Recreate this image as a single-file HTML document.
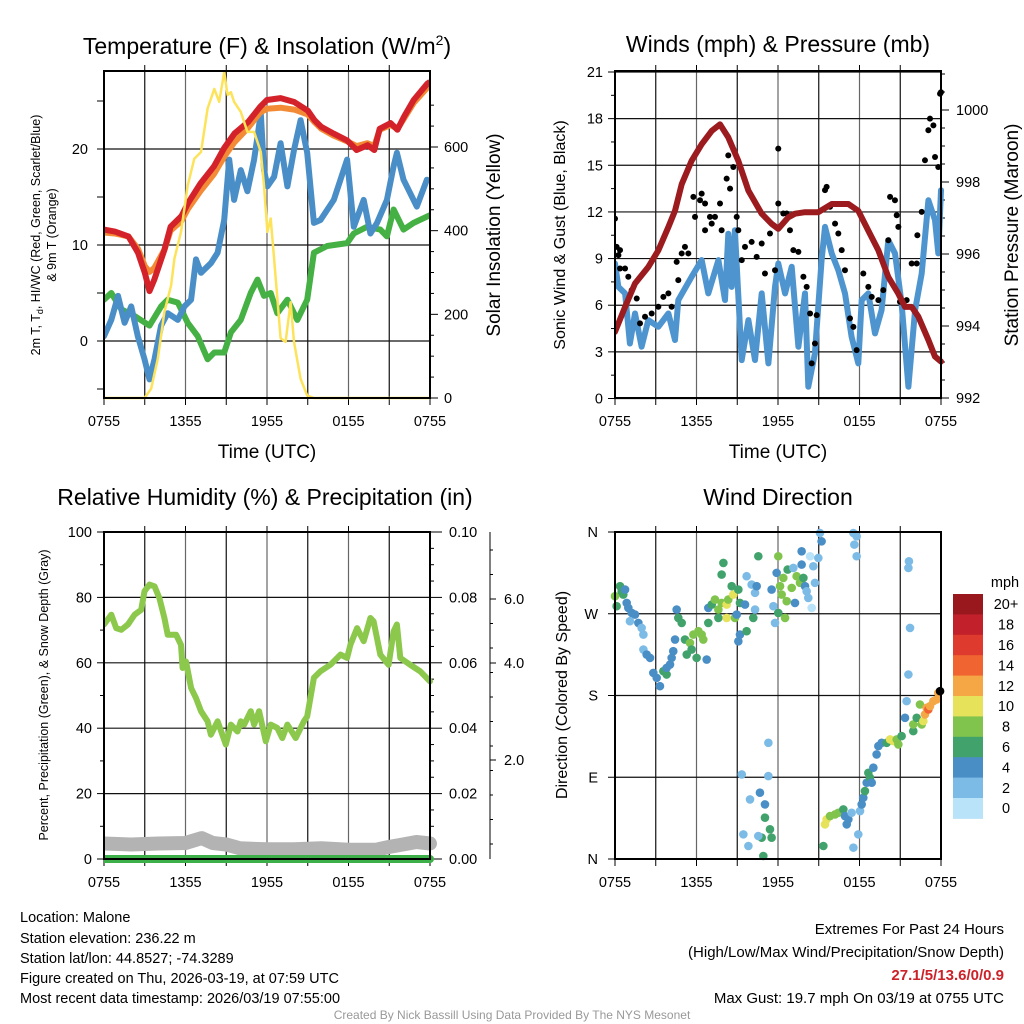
<!DOCTYPE html>
<html><head><meta charset="utf-8">
<style>
html,body{margin:0;padding:0;background:#fff;}
svg{display:block;font-family:"Liberation Sans",Arial,sans-serif;}
</style></head>
<body>
<svg id="fig" width="1024" height="1024" viewBox="0 0 1024 1024" xmlns="http://www.w3.org/2000/svg">
<rect width="1024" height="1024" fill="#fff"/>
<text x="267" y="54" font-size="23" text-anchor="middle">Temperature (F) &amp; Insolation (W/m<tspan font-size="14" dy="-9">2</tspan><tspan dy="9">)</tspan></text>
<text x="778" y="52" font-size="23" text-anchor="middle">Winds (mph) &amp; Pressure (mb)</text>
<text x="265" y="505" font-size="23" text-anchor="middle">Relative Humidity (%) &amp; Precipitation (in)</text>
<text x="778" y="505" font-size="23" text-anchor="middle">Wind Direction</text>
<text x="267" y="458" font-size="19" text-anchor="middle">Time (UTC)</text>
<text x="778" y="458" font-size="19" text-anchor="middle">Time (UTC)</text>
<text transform="translate(40,235) rotate(-90)" font-size="12.5" text-anchor="middle">2m T, T<tspan font-size="9" dy="3">d</tspan><tspan dy="-3">, HI/WC (Red, Green, Scarlet/Blue)</tspan></text>
<text transform="translate(56,235) rotate(-90)" font-size="12.5" text-anchor="middle">&amp; 9m T (Orange)</text>
<text transform="translate(500,235) rotate(-90)" font-size="19" text-anchor="middle">Solar Insolation (Yellow)</text>
<text transform="translate(565,235) rotate(-90)" font-size="16" text-anchor="middle">Sonic Wind &amp; Gust (Blue, Black)</text>
<text transform="translate(1018,235) rotate(-90)" font-size="19" text-anchor="middle">Station Pressure (Maroon)</text>
<text transform="translate(48,695) rotate(-90)" font-size="12.5" text-anchor="middle">Percent, Precipitation (Green), &amp; Snow Depth (Gray)</text>
<text transform="translate(567,695) rotate(-90)" font-size="16" text-anchor="middle">Direction (Colored By Speed)</text>
<g font-size="14.5">
<text x="20" y="922">Location: Malone</text>
<text x="20" y="943">Station elevation: 236.22 m</text>
<text x="20" y="963">Station lat/lon: 44.8527; -74.3289</text>
<text x="20" y="983">Figure created on Thu, 2026-03-19, at 07:59 UTC</text>
<text x="20" y="1003">Most recent data timestamp: 2026/03/19 07:55:00</text>
</g>
<g font-size="15" text-anchor="end">
<text x="1004" y="934">Extremes For Past 24 Hours</text>
<text x="1004" y="957">(High/Low/Max Wind/Precipitation/Snow Depth)</text>
<text x="1004" y="980" fill="#cc2229" font-weight="bold">27.1/5/13.6/0/0.9</text>
<text x="1004" y="1003">Max Gust: 19.7 mph On 03/19 at 0755 UTC</text>
</g>
<text x="512" y="1019" font-size="12" fill="#999" text-anchor="middle">Created By Nick Bassill Using Data Provided By The NYS Mesonet</text>
</svg>
<script>
// ---------- Panel 1 data ----------
const redHours=[0,0.8,1.8,2.5,3,3.35,3.7,4.45,4.9,5.7,6.2,7.1,8.1,8.85,9.6,10.6,11.5,12,13,14,15,15.5,16,16.9,17.9,18.6,19.4,19.9,20.3,21.1,21.6,22.1,22.8,23.8,24];
const redTemp=[11.6,11.4,10.9,9.2,7.1,5.2,6.4,9.5,11.9,13,14.4,16.4,18.2,20.1,21.6,22.8,24.4,25.1,25.3,24.9,24,23,22.3,21.6,20.9,19.9,20.4,19.9,22.1,22.7,22,23.4,25.1,26.8,27];
const orangeTemp=[11.3,11.2,10.9,9.6,7.8,7.2,7.6,9.5,11.5,12.5,13.8,15.6,17.4,19.2,20.7,22.2,23.8,24.2,24.3,24.1,23.6,22.8,22.1,21.4,20.8,20.3,20.6,20.3,22.0,22.5,22.1,23.2,24.8,26.4,26.6];
const blueHours=[0,0.54,1.03,1.52,2.0,2.49,2.98,3.35,3.72,4.2,4.69,5.43,5.92,6.41,6.77,7.14,7.87,8.36,8.85,9.22,9.58,10.07,10.56,11.05,11.3,11.54,11.78,12.03,12.52,13.0,13.5,13.99,14.47,14.96,15.45,15.94,16.92,17.9,18.39,19.12,19.61,20.1,20.83,21.32,21.56,22.05,22.54,23.03,23.77];
const blueTemp=[0.5,2.2,4.7,1.9,3.6,0.5,-1.9,-4,-1.9,1.6,2.9,2.2,3.6,4.3,8.5,7.1,8.1,9.2,12.6,18.9,14.7,17.8,15.6,18.9,21.3,23.7,17.8,16.1,17.1,20.6,16.1,19.9,23,19.6,12.3,12.6,14.7,18.9,11.9,14.7,11.2,12.3,14.7,18.2,19.6,16.8,15.4,14,16.8];
const greenHours=[0,0.54,1.27,2.25,3.35,4.2,4.69,5.43,6.16,6.9,7.63,8.12,8.85,9.34,10.07,10.8,11.3,11.78,12.27,12.76,13.5,14.23,14.96,15.45,16.43,17.9,18.39,19.36,20.34,20.83,21.32,22.05,22.79,24];
const greenTemp=[4.3,5.0,3.3,2.6,1.6,3.6,4.3,4.0,1.9,0.5,-1.9,-1.2,-1.2,0.9,2.2,5.0,6.4,4.7,5.0,2.9,4.3,2.2,4.3,9.2,9.9,10.2,11.2,11.9,11.6,10.9,13.7,11.6,12.3,13.1];
const solarHours=[0,2.98,3.47,3.96,4.45,4.94,5.18,5.67,5.92,6.16,6.65,7.14,7.63,8.12,8.48,8.85,9.1,9.34,9.58,10.07,10.56,11.05,11.54,11.78,12.03,12.27,12.52,13.0,13.37,13.74,13.99,14.47,14.96,15.45,24];
const solarWm2=[0,0,22,94,206,269,333,397,453,508,572,588,692,739,708,779,724,731,708,684,636,636,588,508,397,429,333,143,134,229,134,46,6,0,0];
const tempTicks=[0,10,20];
const solarTicks=[0,200,400,600];
const timeLabels=["0755","1355","1955","0155","0755"];
// ---------- Panel 2 data ----------
const pressHours=[0,0.74,1.47,2.45,3.19,3.93,4.42,4.91,5.64,6.38,7.12,7.73,8.34,9.08,9.82,10.8,11.53,12.02,12.76,13.25,13.99,14.97,15.95,17.18,17.91,18.65,19.39,20.12,20.86,21.35,21.84,22.33,23.07,23.56,24];
const pressMb=[993.84,994.53,995.18,995.64,996.1,996.75,997.2,997.94,998.59,999.05,999.42,999.6,999.24,998.59,997.76,997.12,996.84,996.7,997.02,997.12,997.16,997.16,997.39,997.39,997.2,996.65,996.1,995.36,994.9,994.53,994.53,994.26,993.61,993.15,993.01];
const windHours=[0,0.25,0.74,1.1,1.47,1.96,2.45,3.19,3.93,4.42,4.66,5.64,6.38,6.87,7.61,8.1,8.34,8.59,8.83,9.33,9.82,10.31,10.8,11.29,11.78,12.02,12.52,13.01,13.5,13.99,14.23,14.72,15.21,15.46,15.95,16.44,16.93,17.42,17.91,18.16,18.65,19.14,19.63,20.12,20.61,21.1,21.6,22.09,22.58,23.07,23.56,23.8,24];
const windMph=[8.68,7.18,6.76,3.54,5.47,3.33,5.04,4.61,5.47,3.76,6.33,7.83,8.9,6.76,8.9,6.33,10.6,7.18,10.82,2.47,5.04,2.47,6.76,2.26,7.18,8.68,6.76,8.47,3.33,6.76,0.76,2.9,8.9,11.04,9.33,8.25,6.76,3.97,2.26,6.33,6.76,4.19,5.69,10.18,9.33,6.11,0.76,5.69,8.04,12.75,11.47,9.33,13.4];
const gustHours=[0,0.12,0.37,0.25,0.37,0.74,0.98,1.23,1.6,1.84,2.21,2.7,3.19,3.56,3.93,4.17,4.54,4.66,4.91,5.15,5.4,5.77,5.89,6.26,6.38,6.63,6.63,6.99,7.12,7.36,7.73,7.85,8.22,8.47,8.34,8.71,8.96,9.08,9.33,9.57,10.06,10.43,10.8,11.04,11.41,11.78,12.02,12.02,12.39,12.64,12.88,13.13,13.5,13.87,14.11,14.36,14.48,14.72,14.85,15.46,15.58,15.83,16.2,16.44,16.69,16.93,17.3,17.55,17.79,18.28,18.65,18.9,19.39,19.75,20.12,20.25,20.61,20.74,20.86,20.98,21.47,21.84,22.21,22.26,22.58,22.82,23.07,23.19,23.44,23.56,23.8,23.93,24];
const gustMph=[11.57,9.75,9.54,9.22,8.36,8.36,7.83,6.97,6.43,4.83,5.26,5.47,5.9,6.54,6.76,5.9,8.79,7.61,9.33,9.75,9.33,12.97,11.68,12.75,13.18,12.54,10.82,11.68,11.25,11.68,12.54,10.82,14.14,13.5,15.64,14.89,11.68,10.82,8.9,9.75,10.07,9.11,9.97,8.04,10.61,8.25,12.54,16.07,11.9,11.9,10.82,9.54,9.43,7.83,7.18,5.47,2.26,3.54,5.36,13.4,13.61,12.33,11.25,10.61,9.54,8.25,5.15,4.61,3.11,8.04,7.18,6.54,6.33,6.97,10.18,12.97,12.75,11.79,11.04,6.22,6.33,8.68,8.68,10.5,12.0,15.32,17.25,18.0,17.57,15.53,14.89,19.6,19.7];
const windTicks=[0,3,6,9,12,15,18,21];
const pressTicks=[992,994,996,998,1000];
// ---------- Panel 3 data ----------
const rhHours=[0,0.54,0.9,1.27,1.76,2.25,2.74,2.98,3.35,3.72,4.08,4.45,4.69,5.31,5.67,5.79,6.04,6.41,6.77,7.14,7.63,7.87,8.36,8.97,9.34,9.83,10.07,10.32,10.81,11.05,11.42,11.91,12.27,12.76,13.13,13.5,14.11,14.72,14.96,15.45,15.94,16.67,17.41,17.9,18.14,18.63,19.12,19.61,19.85,20.34,20.95,21.32,21.56,21.81,22.54,23.28,24];
const rhPct=[71.7,74.7,70.6,70.1,71.7,74.7,76.2,81.9,83.9,83.4,79.8,73.7,68.6,68.6,65.5,58.4,60.4,52.3,49.2,45.2,42.1,38,42.1,35,41.1,39,42.1,41.1,45.2,41.1,45.2,36,41.1,40.1,37,41.1,37,42.1,43.6,55.4,57.4,59.4,62.5,61.5,65.5,70.6,66.6,73.7,72.7,62.5,59.4,69.6,71.7,61.5,59.4,57.4,54.3];
const snowHours=[0,2,4,6,7.2,8,9,10,12,14,16,18,20,21,22,23,24];
const snowIn=[0.32,0.3,0.32,0.33,0.43,0.33,0.3,0.22,0.2,0.2,0.22,0.19,0.19,0.25,0.3,0.35,0.32];
const precipHours=[0,24];
const precipIn=[0,0];
const rhTicks=[0,20,40,60,80,100];
const precipTicks=["0.00","0.02","0.04","0.06","0.08","0.10"];
const snowTickLabels=["2.0","4.0","6.0"];
const snowTickY=[760,663,599];
// ---------- Panel 4 data ----------
const dirHours=[0,0.12,0.37,0.49,0.61,0.74,0.86,0.98,1.23,1.47,1.1,1.72,1.96,2.09,2.09,2.33,2.58,2.82,3.07,3.31,3.56,3.8,3.8,4.05,4.17,4.29,4.42,4.54,4.66,4.91,5.15,5.28,5.52,5.64,5.77,6.01,6.14,6.38,6.5,6.75,6.87,6.87,7.12,7.36,7.61,7.61,7.98,7.85,7.85,8.22,8.22,8.34,8.59,8.71,8.83,8.96,9.08,9.2,9.2,9.08,9.57,9.69,9.69,10.06,10.31,10.43,10.18,10.31,10.55,11.53,11.66,11.78,11.9,12.02,12.02,12.15,12.27,12.39,12.52,12.64,12.71,13.01,13.13,13.25,13.37,13.62,13.74,13.74,13.87,13.99,14.11,14.23,14.36,14.48,14.6,14.72,14.97,15.09,15.21,17.55,17.79,17.62,17.79,
9.33,11.29,11.29,9.94,10.67,11.04,11.04,11.41,11.53,10.8,10.55,9.45,9.82,10.92,15.34,15.46,15.58,15.83,16.2,16.44,16.81,16.93,17.18,17.06,17.42,17.55,17.91,18.04,18.16,18.28,18.4,18.53,18.65,18.77,18.9,19.02,19.26,19.39,19.63,20,20.25,20.49,20.74,20.86,21.1,21.35,21.47,21.6,21.72,21.64,21.6,21.96,21.96,22.21,22.45,22.58,22.7,22.82,22.94,23.07,23.19,23.44,23.68,23.8,23.93];
const dirDeg=[289.3,278.3,300.3,294.7,291.1,296.6,281.9,276.4,270.9,269.1,261.8,259.9,254.4,247.1,230.6,225.1,221.4,204.9,199.4,190.3,206.8,203.1,210.4,214.1,221.4,228.8,241.6,274.6,265.4,259.9,241.6,225.1,237.9,230.6,247.1,221.4,250.8,247.1,241.6,219.6,259.9,276.4,280.1,285.6,274.6,265.4,325.9,313.1,281.9,280.1,265.4,285.6,300.3,291.1,265.4,269.1,239.7,247.1,281.9,296.6,280.1,250.8,311.3,302.1,293.0,300.3,265.4,274.6,333.3,296.6,278.3,259.9,315.0,333.3,270.9,300.3,291.1,309.4,265.4,283.8,318.6,298.5,320.4,281.9,311.3,304.0,338.7,324.1,309.4,300.3,294.7,287.4,333.3,276.4,322.3,304.0,331.4,358.9,349.7,358.9,355.2,346.1,333.3,
93.1,127.9,91.3,65.6,73,60.1,45.5,32.7,23.5,23.5,25.3,27.1,14.3,3.3,14.3,38.1,43.6,47.3,49.1,50.9,54.6,47.3,43.6,38.1,50.9,12.5,27.1,52.8,60.1,67.5,74.8,84,94.9,89.5,84,100.5,115.1,124.3,127.9,127.9,131.6,129.8,131.6,126.1,135.3,155.4,173.8,203.1,254.4,327.8,320.4,140.8,148.1,155.4,170.1,148.1,151.8,159.1,166.4,164.6,168.3,173.8,175.6,182.9,184.8];
const dirSpeed=[8,6,6,6,6,4,4,4,4,4,2,4,2,2,2,4,4,4,4,4,6,6,4,4,4,4,4,4,6,6,6,6,8,6,8,6,8,8,8,4,6,4,6,8,8,6,6,6,8,10,10,8,6,10,8,4,4,4,6,6,4,6,2,2,2,4,6,2,6,4,2,2,4,8,6,8,8,8,8,8,6,8,2,4,8,8,4,4,6,4,2,2,0,0,2,2,2,2,4,2,2,2,2,
2,2,2,2,4,4,6,6,6,6,2,2,2,6,6,10,10,8,8,8,6,4,4,4,2,2,2,2,4,4,6,4,6,6,4,4,4,4,4,6,10,10,8,8,6,4,2,2,2,2,2,6,8,6,8,8,10,12,12,14,12,12,12,12];
const dirTickLabels=["N","E","S","W","N"];
const speedBins=["0","2","4","6","8","10","12","14","16","18","20+"];
const speedColors=["#b9e3f8","#7cbbe6","#4a8ec6","#41a36b","#80c44d","#e6e25a","#f5a745","#ef6430","#de3a2d","#c2202b","#98181e"];

// ---------- helpers ----------
const NS="http://www.w3.org/2000/svg";
const svg=document.getElementById('fig');
function mk(tag,attrs,parent){const e=document.createElementNS(NS,tag);for(const k in attrs)e.setAttribute(k,attrs[k]);(parent||svg).appendChild(e);return e;}
function linear(d0,d1,r0,r1){return v=>r0+(v-d0)*(r1-r0)/(d1-d0);}
function pathFrom(xs,ys,fx,fy){let d="";for(let i=0;i<xs.length;i++){d+=(i?"L":"M")+fx(xs[i]).toFixed(1)+","+fy(ys[i]).toFixed(1);}return d;}
function txt(x,y,s,size,anchor,parent){const t=mk('text',{x:x,y:y,'font-size':size,'text-anchor':anchor||'middle'},parent);t.textContent=s;return t;}

function frame(L,R,T,B,name){
  const g=mk('g',{});
  
  
  const fx=linear(0,24,L,R);
  for(let h=3;h<24;h+=3){
    const x=fx(h);
    mk('line',{x1:x,y1:T,x2:x,y2:B,stroke:(h%6===0)?'#666':'#111','stroke-width':1.2},g);
    mk('line',{x1:x,y1:T-6,x2:x,y2:T,stroke:'#000','stroke-width':1},g);
    mk('line',{x1:x,y1:B,x2:x,y2:B+7,stroke:'#000','stroke-width':1},g);
  }
  mk('line',{x1:L,y1:B,x2:L,y2:B+7,stroke:'#000'},g);
  mk('line',{x1:R,y1:B,x2:R,y2:B+7,stroke:'#000'},g);
  const lg=mk('g',{});
  
  
  timeLabels.forEach((s,i)=>txt(fx(i*6),B+28,s,14.5,'middle',lg));
  return {g:g,fx:fx};
}
function border(L,R,T,B,name){
  const r=mk('rect',{x:L,y:T,width:R-L,height:B-T,fill:'none',stroke:'#000','stroke-width':2});
  
  
}
function hgrid(g,L,R,y,col){mk('line',{x1:L,y1:y,x2:R,y2:y,stroke:col||'#111','stroke-width':1.2},g);}

// ================= Panel 1 =================
(function(){
  const L=104,R=430,T=71,B=398;
  const f=frame(L,R,T,B,'temperature');
  const fy=linear(0,20,341,149);
  const fs=linear(0,600,398,147);
  tempTicks.forEach(v=>hgrid(f.g,L,R,fy(v)));
  for(let v=-5;v<=25;v+=5){mk('line',{x1:L-7,y1:fy(v),x2:L,y2:fy(v),stroke:'#000'},f.g);}
  const tl=mk('g',{});
  
  
  tempTicks.forEach(v=>txt(L-16,fy(v)+5,String(v),14.5,'end',tl));
  for(let v=0;v<=700;v+=50){const w=(v%200===0)?8:4;mk('line',{x1:R,y1:fs(v),x2:R+w,y2:fs(v),stroke:'#000'},f.g);}
  const sl=mk('g',{});
  
  
  solarTicks.forEach(v=>txt(R+14,fs(v)+5,String(v),14.5,'start',sl));
  const cp=mk('clipPath',{id:'c1'});mk('rect',{x:L,y:T,width:R-L,height:B-T+3},cp);
  const sg=mk('g',{'clip-path':'url(#c1)'});
  let p;
  p=mk('path',{d:pathFrom(greenHours,greenTemp,f.fx,fy),fill:'none',stroke:'#45b043','stroke-width':6,'stroke-linejoin':'round','stroke-linecap':'round'},sg);
  
  
  p=mk('path',{d:pathFrom(blueHours,blueTemp,f.fx,fy),fill:'none',stroke:'#4a8ec8','stroke-width':6,'stroke-linejoin':'round','stroke-linecap':'round'},sg);
  
  
  p=mk('path',{d:pathFrom(redHours,orangeTemp,f.fx,fy),fill:'none',stroke:'#f38a35','stroke-width':6,'stroke-linejoin':'round'},sg);
  
  
  p=mk('path',{d:pathFrom(redHours,redTemp,f.fx,fy),fill:'none',stroke:'#d4222a','stroke-width':6,'stroke-linejoin':'round'},sg);
  
  
  p=mk('path',{d:pathFrom(solarHours,solarWm2,f.fx,fs),fill:'none',stroke:'#fde35a','stroke-width':2.5,'stroke-linejoin':'round'},sg);
  
  
  border(L,R,T,B,'temperature');
})();

// ================= Panel 2 =================
(function(){
  const L=615,R=941,T=71,B=398;
  const f=frame(L,R,T,B,'winds');
  const fy=linear(0,21,398.5,72);
  const fp=linear(992,1000,398,110);
  windTicks.forEach(v=>{hgrid(f.g,L,R,fy(v));mk('line',{x1:L-7,y1:fy(v),x2:L,y2:fy(v),stroke:'#000'},f.g);});
  for(let v=1.5;v<21;v+=3){mk('line',{x1:L-4,y1:fy(v),x2:L,y2:fy(v),stroke:'#000'},f.g);}
  const wl=mk('g',{});
  
  
  windTicks.forEach(v=>txt(L-12,fy(v)+5,String(v),14.5,'end',wl));
  for(let v=992;v<=1001;v+=0.5){const w=(v%2===0)?8:4;mk('line',{x1:R,y1:fp(v),x2:R+w,y2:fp(v),stroke:'#000'},f.g);}
  const pl=mk('g',{});
  
  
  pressTicks.forEach(v=>txt(R+15,fp(v)+5,String(v),14.5,'start',pl));
  const cp=mk('clipPath',{id:'c2'});mk('rect',{x:L,y:T-4,width:R-L+4,height:B-T+6},cp);
  const sg=mk('g',{'clip-path':'url(#c2)'});
  let p=mk('path',{d:pathFrom(windHours,windMph,f.fx,fy),fill:'none',stroke:'#4e95d0','stroke-width':6,'stroke-linejoin':'round','stroke-linecap':'round'},sg);
  
  
  const gg=mk('g',{},sg);
  
  
  gustHours.forEach((h,i)=>{mk('circle',{cx:f.fx(h),cy:fy(gustMph[i]),r:3,fill:'#000'},gg);});
  p=mk('path',{d:pathFrom(pressHours,pressMb,f.fx,fp),fill:'none',stroke:'#9b1b1f','stroke-width':6,'stroke-linejoin':'round','stroke-linecap':'round'},sg);
  
  
  border(L,R,T,B,'winds');
})();

// ================= Panel 3 =================
(function(){
  const L=104,R=430,T=532,B=859;
  const f=frame(L,R,T,B,'humidity');
  const fy=linear(0,100,B,T);
  rhTicks.forEach(v=>{hgrid(f.g,L,R,fy(v));mk('line',{x1:L-7,y1:fy(v),x2:L,y2:fy(v),stroke:'#000'},f.g);});
  for(let v=10;v<100;v+=20){mk('line',{x1:L-4,y1:fy(v),x2:L,y2:fy(v),stroke:'#000'},f.g);}
  const rl=mk('g',{});
  
  
  rhTicks.forEach(v=>txt(L-12,fy(v)+5,String(v),14.5,'end',rl));
  for(let v=0;v<=100;v+=5){const w=(v%20===0)?12:4;mk('line',{x1:R,y1:fy(v),x2:R+w,y2:fy(v),stroke:'#000'},f.g);}
  const ql=mk('g',{});
  
  
  precipTicks.forEach((s,i)=>txt(R+19,fy(i*20)+5,s,14.5,'start',ql));
  // snow depth axis
  const sa=mk('g',{});
  
  
  mk('line',{x1:490,y1:532,x2:490,y2:859,stroke:'#000','stroke-width':1},sa);
  for(let y=550;y<=850;y+=24.5){mk('line',{x1:490,y1:y,x2:493,y2:y,stroke:'#000'},sa);}
  snowTickY.forEach((y,i)=>{mk('line',{x1:490,y1:y,x2:496,y2:y,stroke:'#000'},sa);txt(504,y+5,snowTickLabels[i],14.5,'start',sa);});
  const fsn=linear(0,1,B,B-48.5);
  const cp=mk('clipPath',{id:'c3'});mk('rect',{x:L,y:T,width:R-L+14,height:B-T+14},cp);
  const sg=mk('g',{'clip-path':'url(#c3)'});
  let p=mk('path',{d:pathFrom(snowHours,snowIn,f.fx,fsn),fill:'none',stroke:'#b3b3b3','stroke-width':14,'stroke-linejoin':'round','stroke-linecap':'round'},sg);
  
  
  const fq=linear(0,0.1,B,T);
  p=mk('path',{d:pathFrom(precipHours,precipIn,f.fx,fq),fill:'none',stroke:'#3db04a','stroke-width':8,'stroke-linecap':'round'},sg);
  
  
  p=mk('path',{d:pathFrom(rhHours,rhPct,f.fx,fy),fill:'none',stroke:'#8cc84b','stroke-width':6,'stroke-linejoin':'round','stroke-linecap':'round'},sg);
  
  
  border(L,R,T,B,'humidity');
})();

// ================= Panel 4 =================
(function(){
  const L=615,R=941,T=532,B=859;
  const f=frame(L,R,T,B,'direction');
  const fy=linear(0,360,B,T);
  for(let i=0;i<5;i++){const v=i*90;hgrid(f.g,L,R,fy(v));mk('line',{x1:L-7,y1:fy(v),x2:L,y2:fy(v),stroke:'#000'},f.g);}
  const dl=mk('g',{});
  
  
  dirTickLabels.forEach((s,i)=>txt(L-17,fy(i*90)+5,s,14.5,'end',dl));
  const cp=mk('clipPath',{id:'c4'});mk('rect',{x:L-5,y:T-5,width:R-L+10,height:B-T+10},cp);
  const sg=mk('g',{'clip-path':'url(#c4)'});
  
  
  dirHours.forEach((h,i)=>{
    const s=dirSpeed[i];const bin=Math.min(10,Math.floor(s/2));
    mk('circle',{cx:f.fx(Math.max(0,h)),cy:fy(dirDeg[i]),r:4.3,fill:speedColors[bin]},sg);
  });
  border(L,R,T,B,'direction');
  // colorbar
  const cb=mk('g',{});
  
  
  txt(1005,587,'mph',14.5,'middle',cb);
  const top=594,h=20.4;
  for(let i=0;i<11;i++){
    const idx=10-i;
    mk('rect',{x:953,y:top+i*h,width:30,height:h+0.5,fill:speedColors[idx]},cb);
    txt(1006,top+i*h+h/2+5,speedBins[idx],14.5,'middle',cb);
  }
})();
</script>
</body></html>
